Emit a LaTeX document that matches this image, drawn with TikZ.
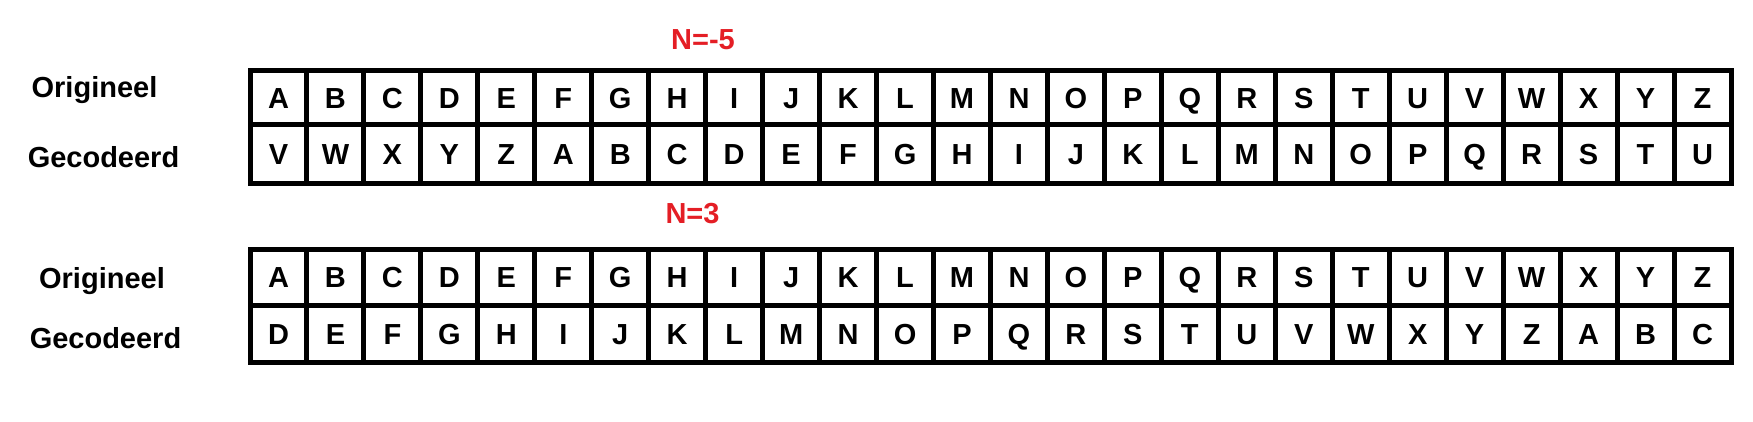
\documentclass[tikz,border=0pt]{standalone}
\usepackage{fontspec}
\setmainfont{Liberation Sans}
\definecolor{nred}{RGB}{228,30,37}
\begin{document}
\begin{tikzpicture}[x=1pt,y=-1pt,
  gridline/.style={line width=5pt},
  letter/.style={font=\fontsize{29}{34}\selectfont\bfseries, anchor=base, inner sep=0pt},
  rowlabel/.style={font=\fontsize{29}{34}\selectfont\bfseries, anchor=base, inner sep=0pt},
  shiftlabel/.style={font=\fontsize{29}{34}\selectfont\bfseries, text=nred, anchor=base, inner sep=0pt}]
\useasboundingbox (0,0) rectangle (1753,422);
\def\cw{56.96}
% grids
\foreach \ty/\my/\by in {70.5/125/183.5, 249/305.5/362.5} {
  \draw[gridline] (250,\ty) rectangle (1731,\by);
  \draw[gridline] (250,\my) -- (1731,\my);
  \foreach \k in {1,...,25}
    \draw[gridline] ({250+\k*\cw},\ty) -- ({250+\k*\cw},\by);
}
% shift labels
\node[shiftlabel] (n1) at (703,50) {N=-5};
\node[shiftlabel] (n2) at (692.5,223) {N=3};
% row labels
\node[rowlabel] (ao) at (94.5,98) {Origineel};
\node[rowlabel] (ag) at (103.5,168) {Gecodeerd};
\node[rowlabel] (bo) at (102,288) {Origineel};
\node[rowlabel] (bg) at (105.5,348) {Gecodeerd};
% letters
\foreach \l [count=\i] in {A,B,C,D,E,F,G,H,I,J,K,L,M,N,O,P,Q,R,S,T,U,V,W,X,Y,Z} {
  \node[letter] (ao\i) at ({250+(\i-0.5)*\cw},108.5) {\l};
  \node[letter] (bo\i) at ({250+(\i-0.5)*\cw},287.5) {\l};
}
\foreach \l [count=\i] in {V,W,X,Y,Z,A,B,C,D,E,F,G,H,I,J,K,L,M,N,O,P,Q,R,S,T,U}
  \node[letter] (ag\i) at ({250+(\i-0.5)*\cw},165) {\l};
\foreach \l [count=\i] in {D,E,F,G,H,I,J,K,L,M,N,O,P,Q,R,S,T,U,V,W,X,Y,Z,A,B,C}
  \node[letter] (bg\i) at ({250+(\i-0.5)*\cw},344.5) {\l};
\end{tikzpicture}
\end{document}
